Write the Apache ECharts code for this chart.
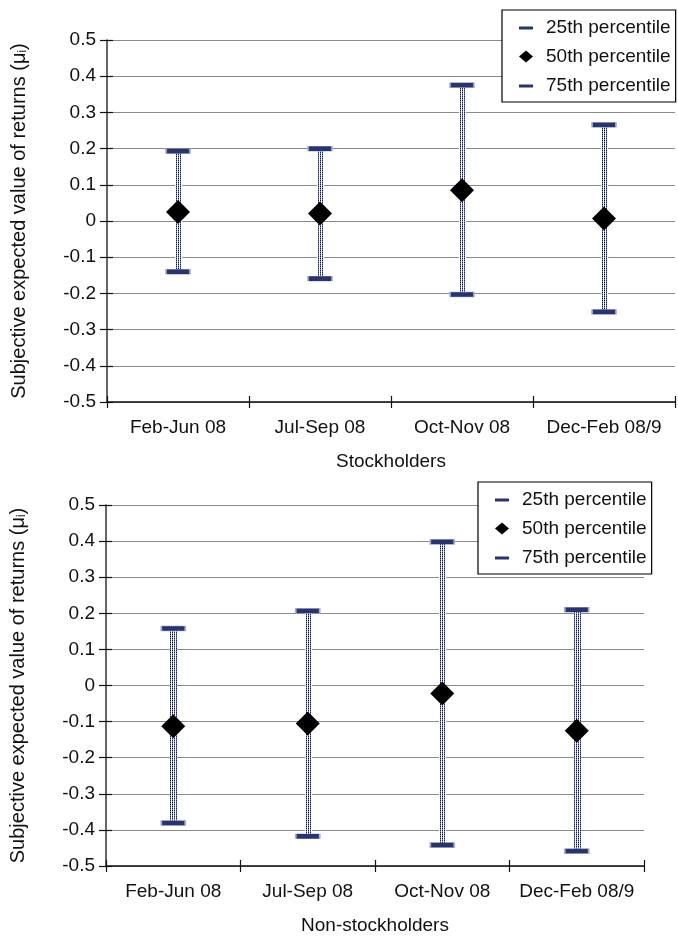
<!DOCTYPE html>
<html>
<head>
<meta charset="utf-8">
<script src="https://cdn.jsdelivr.net/npm/echarts@6/dist/echarts.min.js"></script>
<style>
html,body{margin:0;padding:0;background:#fff;}
#chart{width:678px;height:936px;}
</style>
</head>
<body>
<div id="chart"></div>
<script>
// ---- data ----
var categories = ['Feb-Jun 08', 'Jul-Sep 08', 'Oct-Nov 08', 'Dec-Feb 08/9'];
var stockP25 = [-0.14, -0.159, -0.203, -0.251];
var stockP50 = [0.025, 0.021, 0.085, 0.007];
var stockP75 = [0.193, 0.200, 0.375, 0.266];
var nonP25 = [-0.381, -0.418, -0.442, -0.459];
var nonP50 = [-0.113, -0.105, -0.022, -0.125];
var nonP75 = [0.158, 0.207, 0.398, 0.210];
var yTicks = [-0.5, -0.4, -0.3, -0.2, -0.1, 0, 0.1, 0.2, 0.3, 0.4, 0.5];
var xNames = ['Stockholders', 'Non-stockholders'];
var yName = 'Subjective expected value of returns (\u03bc';

var NAVY = '#27346f';
var FONT = 'Liberation Sans, Arial, sans-serif';
var FS = 19;

// dotted pattern for whiskers
var pc = document.createElement('canvas');
pc.width = 2; pc.height = 2;
var pctx = pc.getContext('2d');
pctx.fillStyle = '#ffffff'; pctx.fillRect(0, 0, 2, 2);
pctx.fillStyle = '#0e175c'; pctx.fillRect(0, 0, 1, 1);
pctx.fillStyle = '#7c86bd'; pctx.fillRect(0, 1, 1, 1);

var chart = echarts.init(document.getElementById('chart'), null, {renderer: 'canvas'});

function fmt(v) {
  var r = Math.round(v * 10) / 10;
  if (Math.abs(r) < 1e-9) return '0';
  return r.toFixed(1);
}

var dashIcon = 'path://M0,0 M0,5 L14,5 L14,8 L0,8 Z M14,12';

function makeGridSet(gi) {
  var p25 = gi === 0 ? stockP25 : nonP25;
  var p50 = gi === 0 ? stockP50 : nonP50;
  var p75 = gi === 0 ? stockP75 : nonP75;
  var rangeData = categories.map(function (c, i) { return [i, p25[i], p75[i]]; });
  return [
    {
      type: 'custom', name: 'range' + gi, xAxisIndex: gi * 2, yAxisIndex: gi * 2,
      silent: true, z: 2,
      renderItem: function (params, api) {
        var x = api.value(0);
        var a = api.coord([x, api.value(1)]);
        var b = api.coord([x, api.value(2)]);
        return {
          type: 'rect',
          shape: {x: Math.round(a[0]) - 3, y: b[1], width: 7, height: a[1] - b[1]},
          style: {fill: {image: pc, repeat: 'repeat'}}
        };
      },
      encode: {x: 0, y: [1, 2]},
      data: rangeData
    },
    {
      type: 'scatter', name: '25th percentile', xAxisIndex: gi * 2, yAxisIndex: gi * 2,
      symbol: 'rect', symbolSize: [24, 5], z: 3, silent: true,
      itemStyle: {color: NAVY, borderColor: '#a9b0cc', borderWidth: 0.8, opacity: 1},
      data: p25.map(function (v, i) { return [i, v]; })
    },
    {
      type: 'scatter', name: '50th percentile', xAxisIndex: gi * 2, yAxisIndex: gi * 2,
      symbol: 'diamond', symbolSize: [24, 24], z: 5, silent: true,
      itemStyle: {color: '#000', opacity: 1},
      data: p50.map(function (v, i) { return [i, v]; })
    },
    {
      type: 'scatter', name: '75th percentile', xAxisIndex: gi * 2, yAxisIndex: gi * 2,
      symbol: 'rect', symbolSize: [24, 5], z: 3, silent: true,
      itemStyle: {color: NAVY, borderColor: '#a9b0cc', borderWidth: 0.8, opacity: 1},
      data: p75.map(function (v, i) { return [i, v]; })
    }
  ];
}

var grids = [
  {left: 107, right: 3, top: 40, bottom: 534},
  {left: 104, right: 34, top: 505, bottom: 66}
];

var xAxes = [], yAxes = [];
grids.forEach(function (g, gi) {
  xAxes.push({
    type: 'category', gridIndex: gi, data: categories, boundaryGap: true, position: 'bottom',
    name: xNames[gi], nameLocation: 'middle', nameGap: 50,
    nameTextStyle: {color: '#111', fontSize: FS, fontFamily: FONT},
    axisLine: {onZero: false, lineStyle: {color: '#111', width: 1.5}},
    axisTick: {show: true, length: 6, lineStyle: {color: '#111', width: 1.2}},
    axisLabel: {color: '#111', fontSize: FS, fontFamily: FONT, margin: 16, interval: 0},
    splitLine: {show: false}
  });
  xAxes.push({
    type: 'category', gridIndex: gi, data: categories, boundaryGap: true, position: 'bottom',
    axisLine: {show: false, onZero: false},
    axisTick: {show: true, inside: true, length: 6, lineStyle: {color: '#111', width: 1.2}},
    axisLabel: {show: false}, splitLine: {show: false}
  });
  yAxes.push({
    type: 'value', gridIndex: gi, min: -0.5, max: 0.5, interval: 0.1, position: 'left',
    name: '{a|' + yName + '}{s|i}{a|)}', nameLocation: 'middle', nameGap: 78, nameRotate: 90,
    nameTextStyle: {
      rich: {
        a: {color: '#111', fontSize: FS + 1, fontFamily: FONT},
        s: {color: '#111', fontSize: 12, fontFamily: FONT, verticalAlign: 'bottom', padding: [6, 0, 0, 0]}
      }
    },
    axisLine: {show: true, onZero: false, lineStyle: {color: '#333', width: 1.5}},
    axisTick: {show: true, length: 7, lineStyle: {color: '#111', width: 1.2}},
    axisLabel: {color: '#111', fontSize: FS, fontFamily: FONT, margin: 11,
      formatter: function (v) { return fmt(v); }},
    splitLine: {show: true, lineStyle: {color: '#8a8a8a', width: 1}}
  });
  yAxes.push({
    type: 'value', gridIndex: gi, min: -0.5, max: 0.5, interval: 0.1, position: 'left',
    axisLine: {show: false, onZero: false},
    axisTick: {show: true, inside: true, length: 6, lineStyle: {color: '#111', width: 1.2}},
    axisLabel: {show: false}, splitLine: {show: false}
  });
});

var legendData = [
  {name: '25th percentile', icon: dashIcon, itemStyle: {color: NAVY, borderWidth: 0}},
  {name: '50th percentile', icon: 'diamond', itemStyle: {color: '#000', borderWidth: 0}},
  {name: '75th percentile', icon: dashIcon, itemStyle: {color: NAVY, borderWidth: 0}}
];
function legendAt(left, top) {
  return {
    orient: 'vertical', left: left, top: top, data: legendData,
    itemWidth: 14, itemHeight: 12, itemGap: 8,
    backgroundColor: '#fff', borderColor: '#000', borderWidth: 1.2,
    padding: [7, 5, 6, 17], selectedMode: false,
    textStyle: {color: '#111', fontSize: FS, fontFamily: FONT, lineHeight: 21, padding: [0, 0, 0, 8]}
  };
}

var series = makeGridSet(0).concat(makeGridSet(1));

chart.setOption({
  animation: false,
  backgroundColor: '#fff',
  grid: grids,
  xAxis: xAxes,
  yAxis: yAxes,
  legend: [legendAt(502, 10), legendAt(478, 482)],
  series: series
});
</script>
</body>
</html>
